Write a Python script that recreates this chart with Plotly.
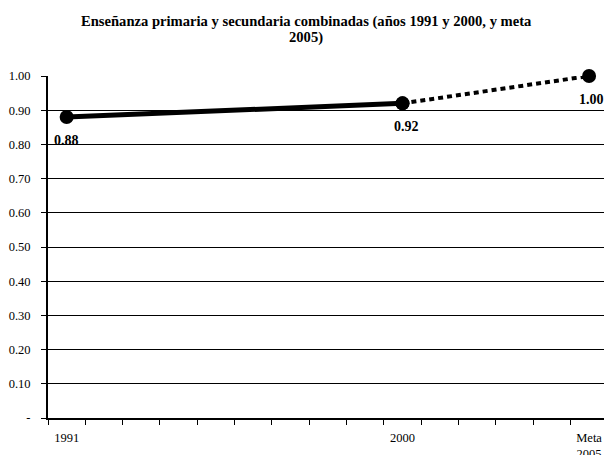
import plotly.graph_objects as go

title_lines = ["Enseñanza primaria y secundaria combinadas (años 1991 y 2000, y meta", "2005)"]
x_labels = ["1991", "2000", "Meta<br>2005"]
actual_idx = [0, 9]
actual_vals = [0.88, 0.92]
target_idx = [9, 14]
target_vals = [0.92, 1.00]
label_idx = [0, 9, 14]
label_vals = [0.88, 0.92, 1.00]
y_ticks = [0.0, 0.1, 0.2, 0.3, 0.4, 0.5, 0.6, 0.7, 0.8, 0.9, 1.0]
y_ticktext = ["-", "0.10", "0.20", "0.30", "0.40", "0.50", "0.60", "0.70", "0.80", "0.90", "1.00"]

SERIF = "Liberation Serif"
W, H = 604, 455
ML, MR, MT, MB = 48, 0, 76, 37
PLOT_H = H - MT - MB

fig = go.Figure()
fig.add_trace(go.Scatter(
    x=actual_idx, y=actual_vals, mode="lines+markers",
    line=dict(color="black", width=5),
    marker=dict(size=14, color="black"),
    cliponaxis=False, showlegend=False, hoverinfo="skip"))
fig.add_trace(go.Scatter(
    x=target_idx, y=target_vals, mode="lines+markers",
    line=dict(color="black", width=4, dash="5px,4px"),
    marker=dict(size=14, color="black"),
    cliponaxis=False, showlegend=False, hoverinfo="skip"))

for xi, v, dx in zip(label_idx, label_vals, [0, 4, 2]):
    fig.add_annotation(
        x=xi, y=v, xref="x", yref="y",
        text="<b>%.2f</b>" % v, showarrow=False,
        xanchor="center", yanchor="middle", yshift=-23, xshift=dx,
        font=dict(family=SERIF, size=14, color="black"))

# title, two lines (centre of each line in page pixels: 22 and 38)
for line, cy in zip(title_lines, [22, 38]):
    fig.add_annotation(
        x=(306 - ML) / (W - ML - MR), y=(H - MB - cy) / PLOT_H,
        xref="paper", yref="paper", showarrow=False,
        xanchor="center", yanchor="middle",
        text="<b>%s</b>" % line,
        font=dict(family=SERIF, size=14.6, color="black"))

fig.update_layout(
    width=W, height=H,
    margin=dict(l=ML, r=MR, t=MT, b=MB),
    paper_bgcolor="white", plot_bgcolor="white",
    font=dict(family=SERIF, size=12.5, color="black"),
    xaxis=dict(
        range=[-0.5, 14.4], tickmode="array",
        tickvals=[0, 9, 14], ticktext=x_labels,
        ticks="outside", ticklen=7, tickcolor="rgba(0,0,0,0)",
        showgrid=False, zeroline=False, automargin=False,
        showline=True, linecolor="black", linewidth=2,
        minor=dict(tick0=-0.5, dtick=1, ticks="outside", ticklen=5,
                   tickcolor="black", tickwidth=1, showgrid=False),
        tickfont=dict(family=SERIF, size=12.5, color="black"),
        fixedrange=True),
    yaxis=dict(
        range=[0, 1.0], tickmode="array",
        tickvals=y_ticks, ticktext=y_ticktext,
        ticks="outside", ticklen=5, tickcolor="black", tickwidth=1,
        showgrid=True, gridcolor="black", gridwidth=1,
        zeroline=False, showline=True, linecolor="black", linewidth=2,
        ticklabelstandoff=8, automargin=False,
        tickfont=dict(family=SERIF, size=12.5, color="black"),
        fixedrange=True),
)

fig.write_html(
    "out.html",
    config={"displayModeBar": False},
    post_script="document.body.style.margin='0';document.body.style.overflow='hidden';",
)
